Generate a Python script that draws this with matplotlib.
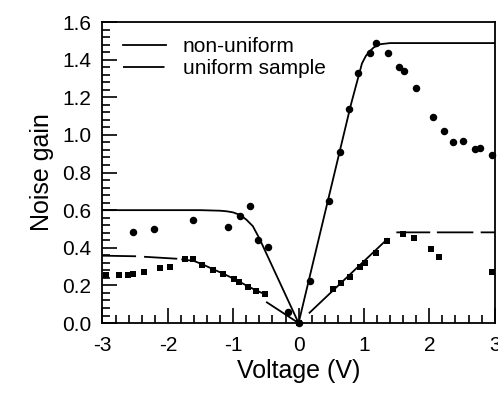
import numpy as np
import matplotlib
matplotlib.use('Agg')
import matplotlib.pyplot as plt
from matplotlib.lines import Line2D
from matplotlib.ticker import MultipleLocator

plt.rcParams['font.family'] = ['Liberation Sans', 'DejaVu Sans']
plt.rcParams['axes.unicode_minus'] = False

# puntos medidos (circulos: muestra no uniforme, cuadrados: muestra uniforme)
circ_v = [-2.53, -2.21, -1.61, -1.08, -0.90, -0.75, -0.62, -0.47, -0.16, 0.0,
          0.18, 0.46, 0.63, 0.77, 0.91, 1.09, 1.18, 1.37, 1.54, 1.61,
          1.80, 2.06, 2.22, 2.37, 2.51, 2.70, 2.78, 2.96]
circ_g = [0.486, 0.498, 0.550, 0.509, 0.569, 0.622, 0.441, 0.406, 0.060, 0.0,
          0.225, 0.650, 0.908, 1.137, 1.328, 1.435, 1.490, 1.435, 1.360, 1.337,
          1.248, 1.094, 1.021, 0.961, 0.965, 0.924, 0.929, 0.894]

sq_v = [-2.94, -2.75, -2.61, -2.53, -2.37, -2.12, -1.97, -1.74, -1.61, -1.47,
        -1.31, -1.16, -0.99, -0.91, -0.775, -0.65, -0.52, 0.0,
        0.525, 0.65, 0.79, 0.94, 1.02, 1.19, 1.35, 1.60, 1.76, 2.02, 2.15, 2.96]
sq_g = [0.254, 0.254, 0.254, 0.260, 0.270, 0.290, 0.300, 0.342, 0.339, 0.310,
        0.282, 0.261, 0.234, 0.218, 0.190, 0.172, 0.153, 0.0,
        0.179, 0.211, 0.246, 0.296, 0.321, 0.374, 0.438, 0.473, 0.450, 0.394, 0.353, 0.273]

# curvas del modelo
nonuni_v = [-3.0, -1.5, -1.2, -1.1, -1.0, -0.9, -0.8, -0.7, -0.6, -0.4, -0.2, 0.0,
            0.2, 0.5, 0.8, 0.97, 1.03, 1.09, 1.15, 1.25, 1.4, 3.0]
nonuni_g = [0.600, 0.600, 0.597, 0.594, 0.588, 0.575, 0.550, 0.515, 0.450, 0.300, 0.150, 0.0,
            0.290, 0.725, 1.160, 1.380, 1.420, 1.445, 1.465, 1.482, 1.488, 1.488]

nan = np.nan
uni_v = [-3.0, -2.5, nan, -2.35, -1.87, nan, -1.78, -1.6, -1.47, -1.3, -1.15, -1.0,
         -0.9, -0.78, -0.65, -0.49, nan, -0.485, 0.0, nan, 0.168, 1.36, nan,
         1.51, 2.0, nan, 2.13, 2.66, nan, 2.80, 3.0]
uni_g = [0.358, 0.355, nan, 0.352, 0.342, nan, 0.338, 0.330, 0.312, 0.285, 0.262, 0.237,
         0.219, 0.196, 0.174, 0.149, nan, 0.110, 0.0, nan, 0.055, 0.447, nan,
         0.482, 0.482, nan, 0.482, 0.482, nan, 0.482, 0.482]

fig = plt.figure(figsize=(4.98, 3.93), dpi=100)
ax = fig.add_axes([0.2058, 0.178, 0.7875, 0.766])

ax.plot(nonuni_v, nonuni_g, color='black', lw=1.3)
ax.plot(uni_v, uni_g, color='black', lw=1.3)
ax.plot(circ_v, circ_g, 'o', color='black', ms=5.4, mew=0, clip_on=False)
ax.plot(sq_v, sq_g, 's', color='black', ms=4.6, mew=0, clip_on=False)

ax.set_xlim(-3, 3)
ax.set_ylim(0, 1.6)
ax.xaxis.set_major_locator(MultipleLocator(1))
ax.xaxis.set_minor_locator(MultipleLocator(0.2))
ax.yaxis.set_minor_locator(MultipleLocator(0.04))
ax.set_yticks(np.arange(0, 1.61, 0.2))
ax.set_yticklabels(['%.1f' % t for t in np.arange(0, 1.61, 0.2)])

ax.tick_params(which='major', direction='in', length=11, width=1.2, labelsize=15, pad=8)
ax.tick_params(which='minor', direction='in', length=6, width=1.2)
ax.tick_params(axis='x', which='major', pad=9)
for s in ax.spines.values():
    s.set_linewidth(1.3)

ax.set_xlabel('Voltage (V)', fontsize=18, labelpad=3)
ax.set_ylabel('Noise gain', fontsize=18, labelpad=6)

handles = [Line2D([], [], color='black', lw=1.3),
           Line2D([], [], color='black', lw=1.3, linestyle=(0, (23, 5)))]
ax.legend(handles, ['non-uniform', 'uniform sample'], loc='upper left',
          bbox_to_anchor=(0.052, 0.95), frameon=False, fontsize=15,
          handlelength=2.07, handletextpad=0.8, labelspacing=0.15,
          borderpad=0, borderaxespad=0)

fig.savefig('out.png', dpi=100)
